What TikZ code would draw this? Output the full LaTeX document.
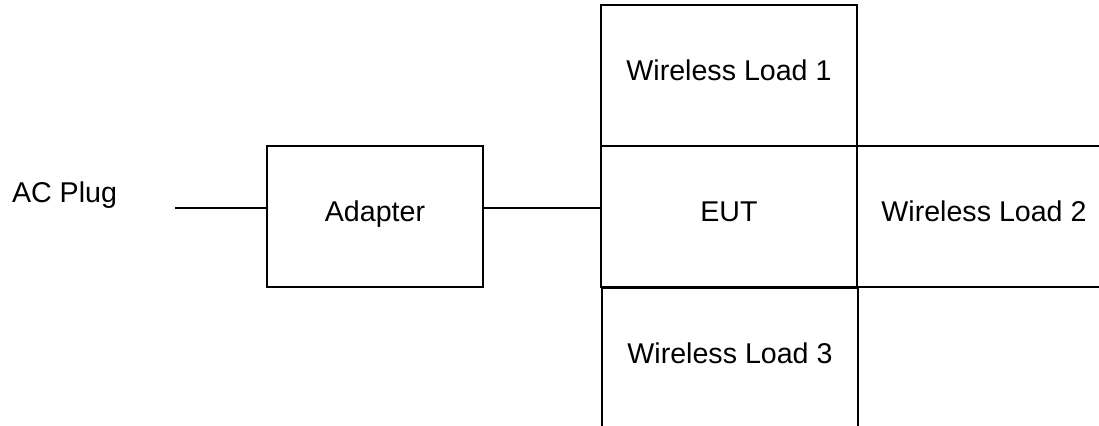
\documentclass[tikz,border=0pt]{standalone}
\usepackage{fontspec}
\setmainfont{Liberation Sans}
\usepackage{tikz}
\usetikzlibrary{positioning}

\begin{document}
\begin{tikzpicture}[x=0.5pt,y=-0.5pt,line width=0.75pt,
        font=\fontsize{14.3}{17}\selectfont,
        unitbox/.style={draw,rectangle,inner sep=0pt,minimum width=128pt,minimum height=70.5pt,text height=10.3pt,text depth=5.8pt},
        label text/.style={inner sep=0pt,text height=10.3pt,text depth=5.8pt}]
        % Frame
        \clip (0,0) rectangle (1099,425);
        % Boxes
        \node[unitbox,minimum width=108pt] (adapter) at (375,216.5) {Adapter};
        \node[unitbox] (eut) at (729,216.5) {EUT};
        \node[unitbox] (load1) at (729,75.5) {Wireless Load 1};
        \node[unitbox,minimum width=127pt] (load2) at (984,216.5) {Wireless Load 2};
        \node[unitbox] (load3) at (730,358.5) {Wireless Load 3};
        % Plug
        \node[label text] (plug) at (64.5,197.5) {AC Plug};
        \coordinate (plugend) at (175,208);
        % Lines
        \draw (plugend) -- (plugend -| adapter.west);
        \draw (adapter.east |- plugend) -- (plugend -| eut.west);
\end{tikzpicture}
\end{document}
